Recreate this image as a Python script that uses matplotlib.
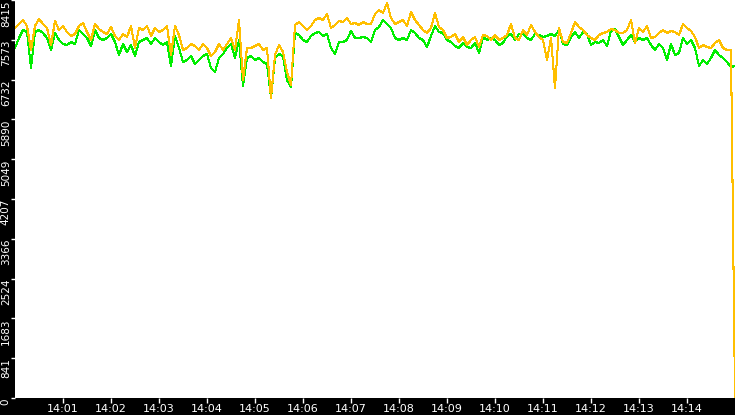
import pandas as pd
import matplotlib
matplotlib.use('Agg')
import matplotlib.pyplot as plt
import matplotlib.dates as mdates

# samples every 5 seconds from 14:00:00 to 14:15:00
start = '2024-01-01 14:00:00'
n_points = 181

orange_values = [
    7823, 7908, 7992, 7865, 7358, 7865, 8013, 7908, 7823, 7464,
    7971, 7781, 7865, 7739, 7654, 7696, 7865, 7929, 7739, 7570,
    7908, 7802, 7739, 7696, 7844, 7654, 7570, 7696, 7633, 7865,
    7400, 7823, 7781, 7865, 7654, 7823, 7739, 7781, 7865, 7252,
    7865, 7675, 7358, 7400, 7485, 7443, 7358, 7485, 7400, 7231,
    7316, 7485, 7358, 7485, 7612, 7358, 7992, 6724, 7400, 7400,
    7443, 7485, 7358, 7400, 6343, 7252, 7464, 7316, 6893, 6618,
    7887, 7950, 7865, 7781, 7865, 7992, 8034, 7992, 8119, 7823,
    7887, 7971, 7950, 8034, 7908, 7929, 7887, 7950, 7908, 7908,
    8119, 8204, 8140, 8352, 8034, 7908, 7950, 7992, 7865, 8161,
    7992, 7887, 7781, 7717, 7823, 8140, 7844, 7781, 7612, 7633,
    7696, 7527, 7633, 7464, 7570, 7633, 7421, 7675, 7654, 7570,
    7675, 7570, 7612, 7675, 7908, 7612, 7570, 7781, 7675, 7887,
    7739, 7633, 7570, 7147, 7612, 6555, 7823, 7527, 7506, 7717,
    7950, 7844, 7781, 7675, 7612, 7570, 7675, 7717, 7739, 7802,
    7781, 7717, 7717, 7781, 7992, 7506, 7823, 7739, 7865, 7612,
    7633, 7717, 7781, 7717, 7760, 7739, 7675, 7908, 7823, 7760,
    7633, 7400, 7464, 7421, 7400, 7506, 7570, 7400, 7358, 7358,
    0,
]

green_values = [
    7400, 7612, 7781, 7739, 6977, 7739, 7781, 7717, 7612, 7358,
    7717, 7570, 7485, 7464, 7527, 7485, 7781, 7696, 7612, 7443,
    7781, 7612, 7570, 7612, 7696, 7527, 7252, 7485, 7316, 7464,
    7231, 7527, 7570, 7612, 7485, 7612, 7527, 7464, 7527, 7020,
    7654, 7400, 7104, 7147, 7231, 7062, 7147, 7231, 7273, 6977,
    6893, 7189, 7273, 7400, 7485, 7189, 7570, 6597, 7189, 7231,
    7147, 7189, 7104, 7062, 6343, 7189, 7273, 7231, 6724, 6576,
    7717, 7675, 7570, 7527, 7654, 7717, 7739, 7654, 7696, 7400,
    7273, 7527, 7527, 7570, 7760, 7612, 7612, 7633, 7612, 7527,
    7781, 7844, 7992, 7908, 7823, 7612, 7570, 7612, 7570, 7781,
    7717, 7612, 7570, 7421, 7654, 7865, 7739, 7717, 7570, 7527,
    7443, 7400, 7506, 7421, 7400, 7506, 7295, 7633, 7570, 7612,
    7570, 7464, 7506, 7654, 7696, 7570, 7696, 7696, 7612, 7570,
    7696, 7675, 7633, 7654, 7696, 7654, 7781, 7485, 7464, 7633,
    7739, 7612, 7739, 7696, 7464, 7527, 7506, 7570, 7443, 7760,
    7802, 7633, 7464, 7570, 7675, 7527, 7612, 7570, 7612, 7464,
    7358, 7485, 7400, 7147, 7485, 7252, 7295, 7612, 7485, 7570,
    7400, 7020, 7147, 7062, 7189, 7358, 7252, 7189, 7104, 6999,
    7020,
]

y_ticks = [0, 841, 1683, 2524, 3366, 4207, 5049, 5890, 6732, 7573, 8415]

times = pd.date_range(start, periods=n_points, freq='5s')
# one label per minute, 14:01 .. 14:14
x_ticks = times[12:180:12]

fig = plt.figure(figsize=(7.35, 4.15), dpi=100, facecolor='black')
ax = fig.add_axes([15 / 735, 17 / 415, 720 / 735, 398 / 415])
ax.set_facecolor('white')

ax.plot(times, green_values, color='#00EE00', linewidth=0.75, antialiased=False)
ax.plot(times, orange_values, color='#FFBF00', linewidth=0.75, antialiased=False)

ax.set_xlim(times[0], times[-1])
ax.set_ylim(0, 8415)

ax.set_yticks(y_ticks)
ax.set_yticklabels([str(t) for t in y_ticks], rotation=90, va='top', ha='right')
ax.set_xticks(x_ticks)
ax.xaxis.set_major_formatter(mdates.DateFormatter('%H:%M'))

ax.tick_params(axis='both', colors='white', labelcolor='white',
               length=3.5, width=1, pad=0.5)
ax.tick_params(axis='x', labelsize=8)
ax.tick_params(axis='y', labelsize=7.5, length=3, pad=0)
for s in ax.spines.values():
    s.set_visible(False)

fig.savefig('out.png', dpi=100, facecolor='black')
